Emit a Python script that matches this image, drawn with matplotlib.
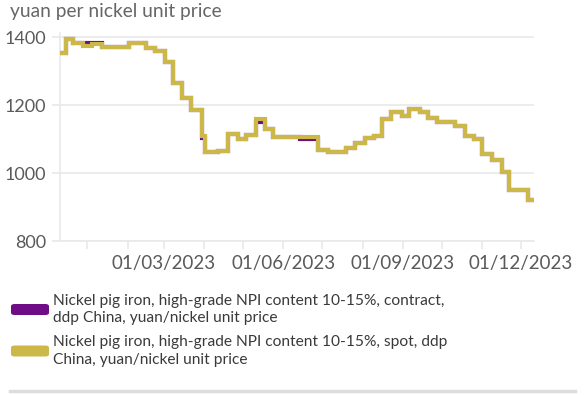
import matplotlib
matplotlib.use("Agg")
import matplotlib.pyplot as plt
import matplotlib.dates as mdates
from matplotlib.patches import FancyBboxPatch
import pandas as pd

plt.rcParams['font.family'] = ['Lato', 'DejaVu Sans']

# ---- data (price change dates and values) ----
dates = ["2022-12-11", "2022-12-16", "2022-12-21", "2022-12-29", "2023-01-05", "2023-01-12",
         "2023-02-02", "2023-02-15", "2023-02-22", "2023-03-02", "2023-03-08", "2023-03-15",
         "2023-03-22", "2023-03-30", "2023-04-02", "2023-04-12", "2023-04-19", "2023-04-27",
         "2023-05-03", "2023-05-11", "2023-05-18", "2023-05-24", "2023-06-14", "2023-06-28",
         "2023-07-05", "2023-07-19", "2023-07-26", "2023-08-03", "2023-08-10", "2023-08-16",
         "2023-08-23", "2023-08-31", "2023-09-06", "2023-09-14", "2023-09-20", "2023-09-27",
         "2023-10-11", "2023-10-19", "2023-10-26", "2023-11-01", "2023-11-09", "2023-11-16",
         "2023-11-22", "2023-12-06", "2023-12-11"]
spot = [1354, 1394, 1384, 1374, 1381, 1370,
        1383, 1367, 1360, 1327, 1266, 1220,
        1185, 1110, 1063, 1066, 1115, 1099,
        1112, 1158, 1131, 1107, 1107, 1068,
        1061, 1073, 1089, 1104, 1110, 1159,
        1180, 1169, 1188, 1180, 1161, 1149,
        1139, 1110, 1099, 1055, 1038, 1004,
        950, 921, 921]
contract = [1354, 1394, 1384, 1384, 1384, 1370,
            1383, 1367, 1360, 1327, 1266, 1220,
            1185, 1102, 1063, 1066, 1115, 1099,
            1112, 1150, 1131, 1107, 1100, 1068,
            1061, 1073, 1089, 1104, 1110, 1159,
            1180, 1169, 1188, 1180, 1161, 1149,
            1139, 1110, 1099, 1055, 1038, 1004,
            950, 921, 921]
y_ticks = [800, 1000, 1200, 1400]
label_contract = "Nickel pig iron, high-grade NPI content 10-15%, contract,\nddp China, yuan/nickel unit price"
label_spot = "Nickel pig iron, high-grade NPI content 10-15%, spot, ddp\nChina, yuan/nickel unit price"
unit_title = "yuan per nickel unit price"

PURPLE = "#6e0d86"
YELLOW = "#cbb848"
GRID = "#e9e9e9"
TICKC = "#5a5a5a"

W, H = 584, 395
fig = plt.figure(figsize=(W / 100, H / 100), dpi=100)
ax = fig.add_axes([60 / W, 1 - 241 / H, (534 - 60) / W, (241 - 33) / H])

d = pd.to_datetime(dates)
ax.step(d, contract, where='post', color=PURPLE, lw=3.0, solid_joinstyle='miter', zorder=3)
ax.step(d, spot, where='post', color=YELLOW, lw=3.0, solid_joinstyle='miter', zorder=4)

ax.set_xlim(d[0], d[-1])
ax.set_ylim(800, 1412)
ax.set_yticks(y_ticks)
ax.set_yticklabels([str(v) for v in y_ticks])
ax.grid(axis='y', color=GRID, lw=1.2)
ax.set_axisbelow(True)

ax.xaxis.set_major_locator(mdates.MonthLocator(bymonth=[3, 6, 9, 12]))
ax.xaxis.set_major_formatter(mdates.DateFormatter("%d/%m/%Y"))
ax.xaxis.set_minor_locator(mdates.MonthLocator())

for s in ['top', 'right']:
    ax.spines[s].set_visible(False)
for s in ['left', 'bottom']:
    ax.spines[s].set_color(GRID)
    ax.spines[s].set_linewidth(1.2)

ax.tick_params(axis='y', length=6, width=1.2, color=GRID, labelcolor=TICKC, labelsize=13, pad=4)
ax.tick_params(axis='x', which='both', length=6, width=1.2, color=GRID, labelcolor=TICKC, labelsize=13.5, pad=4)

fig.text(10 / W, 1 - 12 / H, unit_title, ha='left', va='center', fontsize=13.8, color="#666666")

# legend
for yc, col, lab in [(309.5, PURPLE, label_contract), (351, YELLOW, label_spot)]:
    p = FancyBboxPatch((11 / W, 1 - (yc + 5.5) / H), 38 / W, 11 / H,
                       boxstyle="round,pad=0,rounding_size=0.006",
                       transform=fig.transFigure, facecolor=col, edgecolor='none')
    fig.patches.append(p)
    fig.text(53 / W, 1 - yc / H, lab, ha='left', va='center', fontsize=11.2,
             color="#3a3a3a", linespacing=1.3)

fig.add_artist(plt.Line2D([10 / W, 575 / W], [1 - 391 / H, 1 - 391 / H],
                          transform=fig.transFigure, color="#dddddd", lw=2.5))

fig.savefig("out.png", dpi=100)
